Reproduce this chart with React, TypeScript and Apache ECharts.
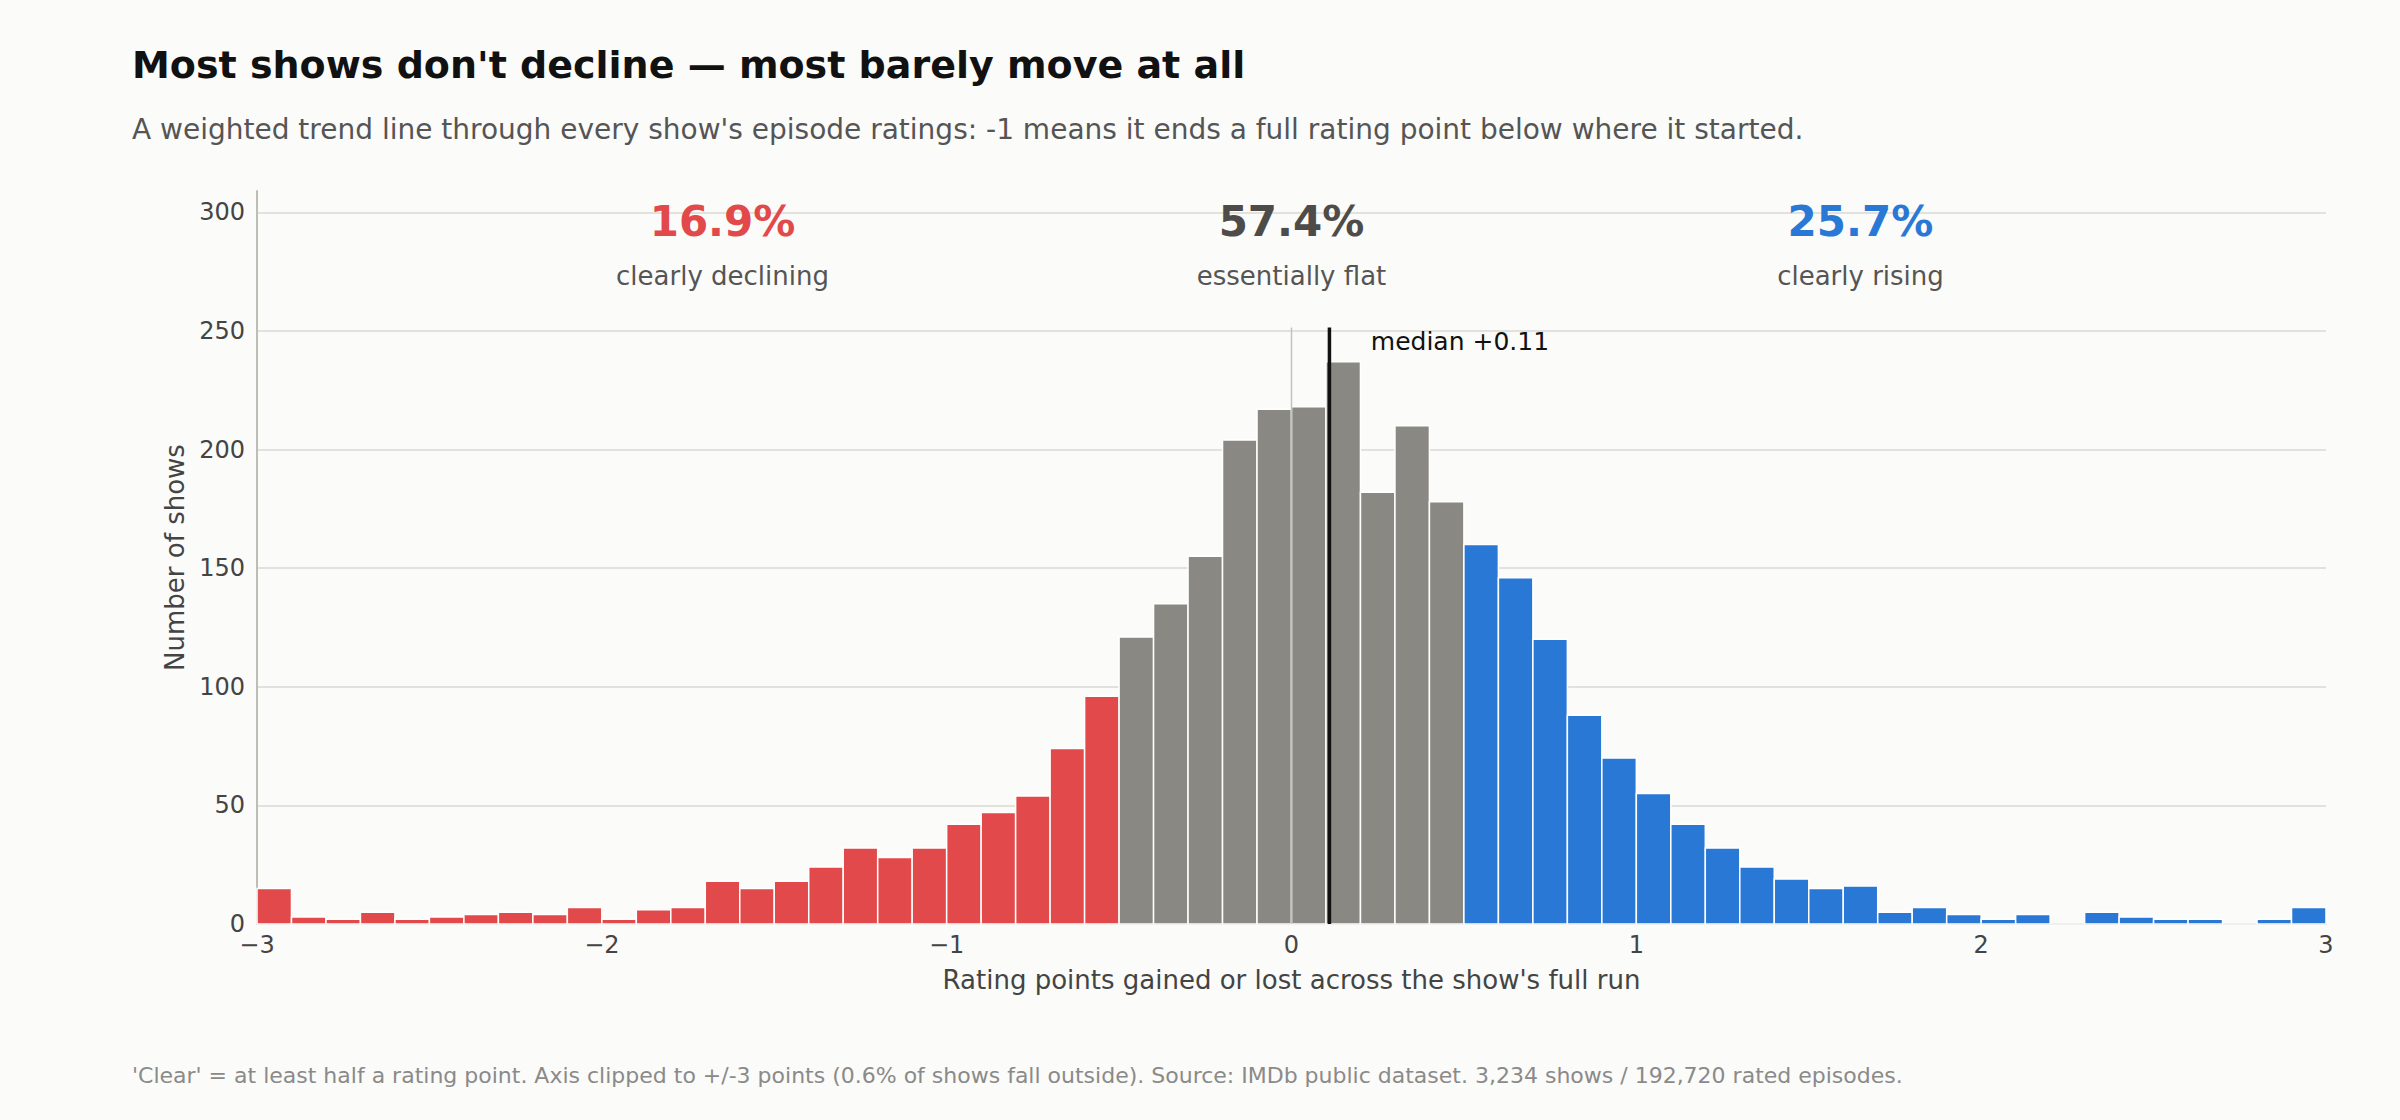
import React, { useEffect, useRef } from "react";
import * as echarts from "echarts";

// Histogram bins: 0.1 wide, from -3 to +3
const binStart = -3;
const binWidth = 0.1;

// Counts per bin, read left to right
const decliningCounts = [15, 3, 2, 5, 2, 3, 4, 5, 4, 7, 2, 6, 7, 18, 15, 18, 24, 32, 28, 32, 42, 47, 54, 74, 96];
const flatCounts = [121, 135, 155, 204, 217, 218, 237, 182, 210, 178];
const risingCounts = [160, 146, 120, 88, 70, 55, 42, 32, 24, 19, 15, 16, 5, 7, 4, 2, 4, 0, 5, 3, 2, 2, 0, 2, 7];

const groupShares = ["16.9%", "57.4%", "25.7%"];
const groupNames = ["clearly declining", "essentially flat", "clearly rising"];
const groupCenters = [-1.65, 0, 1.65];

const medianValue = 0.11;
const yTicks = [0, 50, 100, 150, 200, 250, 300];

const RED = "#E2494A";
const GRAY = "#898883";
const BLUE = "#2A78D6";
const FONT = '"DejaVu Sans", sans-serif';

const fmtMinus = (v: number) => (v < 0 ? "\u2212" + Math.abs(v) : String(v));

const App: React.FC = () => {
  const chartRef = useRef<HTMLDivElement>(null);

  useEffect(() => {
    if (!chartRef.current) return;
    const chart = echarts.init(chartRef.current, undefined, { renderer: "svg" });

    const counts = [...decliningCounts, ...flatCounts, ...risingCounts];
    const bins = counts.map((c, i) => {
      const x0 = +(binStart + i * binWidth).toFixed(2);
      return [x0, +(x0 + binWidth).toFixed(2), c];
    });
    const groupColors = [RED, "#4D4C49", BLUE];

    const options = {
      animation: false,
      backgroundColor: "#FBFBF9",
      grid: { left: 257, right: 74, top: 191, bottom: 196 },
      graphic: [
        {
          type: "text",
          left: 132,
          top: 46,
          style: { text: "Most shows don't decline \u2014 most barely move at all", fill: "#111", font: `bold 38px ${FONT}` },
        },
        {
          type: "text",
          left: 132,
          top: 115,
          style: {
            text: "A weighted trend line through every show's episode ratings: -1 means it ends a full rating point below where it started.",
            fill: "#555",
            font: `28px ${FONT}`,
          },
        },
        {
          type: "text",
          left: 132,
          top: 1064,
          style: {
            text: "'Clear' = at least half a rating point. Axis clipped to +/-3 points (0.6% of shows fall outside). Source: IMDb public dataset. 3,234 shows / 192,720 rated episodes.",
            fill: "#8A8A8A",
            font: `22px ${FONT}`,
          },
        },
      ],
      xAxis: {
        type: "value",
        min: -3,
        max: 3,
        interval: 1,
        name: "Rating points gained or lost across the show's full run",
        nameLocation: "middle",
        nameGap: 43,
        nameTextStyle: { fontFamily: FONT, fontSize: 26, color: "#444" },
        axisLine: { show: true, lineStyle: { color: "#BEBDB5", width: 2 } },
        axisTick: { show: false },
        axisLabel: { fontFamily: FONT, fontSize: 24, color: "#444", margin: 9, formatter: fmtMinus },
        splitLine: { show: false },
      },
      yAxis: {
        type: "value",
        min: 0,
        max: 309,
        interval: 50,
        name: "Number of shows",
        nameLocation: "middle",
        nameGap: 69,
        nameTextStyle: { fontFamily: FONT, fontSize: 26, color: "#444" },
        axisLine: { show: true, onZero: false, lineStyle: { color: "#BEBDB5", width: 2 } },
        axisTick: { show: false },
        axisLabel: {
          fontFamily: FONT,
          fontSize: 24,
          color: "#444",
          margin: 12,
          showMaxLabel: false,
          formatter: (v: number) => (yTicks.includes(v) ? String(v) : ""),
        },
        splitLine: { show: true, showMaxLine: false, lineStyle: { color: "#E2E1DB", width: 1.8 } },
      },
      series: [
        {
          type: "custom",
          name: "shows",
          data: bins,
          encode: { x: [0, 1], y: 2 },
          z: 2,
          renderItem: (params: any, api: any) => {
            const x0 = api.value(0);
            const x1 = api.value(1);
            const y = api.value(2);
            const p0 = api.coord([x0, y]);
            const p1 = api.coord([x1, 0]);
            const mid = (x0 + x1) / 2;
            const fill = mid < -0.5 ? RED : mid > 0.5 ? BLUE : GRAY;
            return {
              type: "rect",
              shape: { x: p0[0], y: p0[1], width: p1[0] - p0[0], height: p1[1] - p0[1] },
              style: { fill, stroke: "#FFFFFF", lineWidth: 1.5 },
            };
          },
        },
        {
          type: "line",
          name: "zero",
          data: [[0, 0], [0, 251.5]],
          symbol: "none",
          silent: true,
          z: 3,
          lineStyle: { color: "#C4C3BC", width: 1.5 },
        },
        {
          type: "line",
          name: "median",
          data: [[medianValue, 0], [medianValue, 251.5]],
          symbol: "none",
          silent: true,
          z: 4,
          lineStyle: { color: "#111111", width: 3.5 },
        },
        {
          type: "custom",
          name: "annotations",
          data: groupCenters.map((x) => [x, 296]),
          encode: { x: 0, y: 1 },
          z: 5,
          silent: true,
          renderItem: (params: any, api: any) => {
            const i = params.dataIndex;
            const p = api.coord([groupCenters[i], 296]);
            const q = api.coord([groupCenters[i], 273.2]);
            return {
              type: "group",
              children: [
                {
                  type: "text",
                  x: p[0],
                  y: p[1],
                  style: {
                    text: groupShares[i],
                    fill: groupColors[i],
                    font: `bold 42px ${FONT}`,
                    align: "center",
                    verticalAlign: "middle",
                  },
                },
                {
                  type: "text",
                  x: q[0],
                  y: q[1],
                  style: {
                    text: groupNames[i],
                    fill: "#555",
                    font: `26px ${FONT}`,
                    align: "center",
                    verticalAlign: "middle",
                  },
                },
              ],
            };
          },
        },
        {
          type: "custom",
          name: "medianLabel",
          data: [[medianValue, 245.4]],
          encode: { x: 0, y: 1 },
          z: 5,
          silent: true,
          renderItem: (params: any, api: any) => {
            const p = api.coord([api.value(0) + 0.12, api.value(1)]);
            return {
              type: "text",
              x: p[0],
              y: p[1],
              style: {
                text: "median +" + medianValue.toFixed(2),
                fill: "#111",
                font: `25px ${FONT}`,
                align: "left",
                verticalAlign: "middle",
              },
            };
          },
        },
      ],
    };

    chart.setOption(options);

    return () => {
      chart.dispose();
    };
  }, []);

  return (
    <div
      ref={chartRef}
      style={{ position: "fixed", left: 0, top: 0, width: "2400px", height: "1120px" }}
    />
  );
};

export default App;
